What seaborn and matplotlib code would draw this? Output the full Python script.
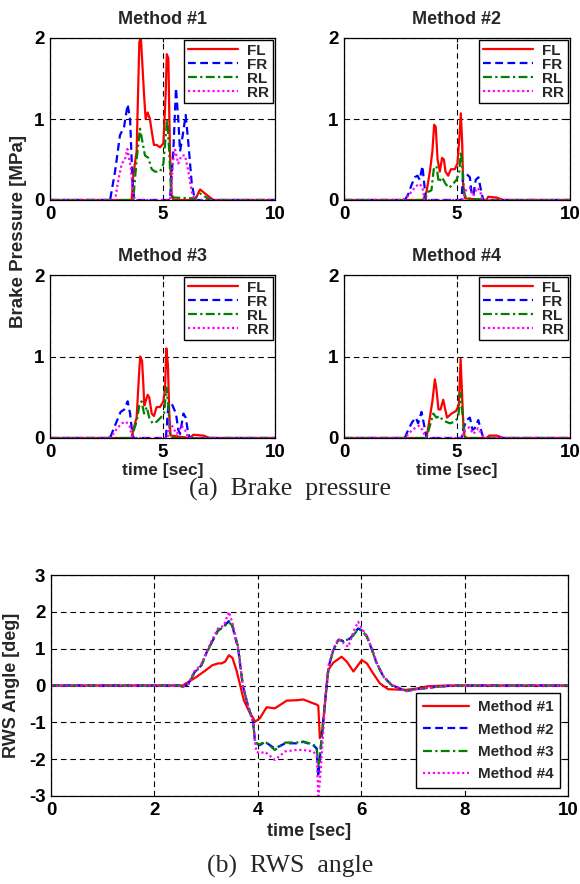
import numpy as np
import pandas as pd
import matplotlib
matplotlib.use("Agg")
import matplotlib.pyplot as plt
import seaborn as sns

# ---- data: (time [s], value) knots ----
WHEELS = ["FL", "FR", "RL", "RR"]
METHODS = ["Method #1", "Method #2", "Method #3", "Method #4"]

# brake pressure [MPa]
M1_FL = [(0, 0), (3.63, 0), (3.70, 0.30), (3.85, 0.60), (3.97, 1.95), (4.04, 2.0), (4.12, 1.6),
         (4.18, 1.3), (4.25, 1.0), (4.34, 1.08), (4.44, 1.0), (4.52, 0.85), (4.62, 0.68),
         (4.74, 0.68), (4.89, 0.65), (5.04, 0.70), (5.14, 1.3), (5.19, 1.8), (5.26, 1.75),
         (5.33, 0.6), (5.41, 0.05), (5.48, 0), (6.44, 0), (6.67, 0.13), (6.89, 0.08), (7.26, 0), (10, 0)]
M1_FR = [(0, 0), (2.67, 0), (2.89, 0.35), (3.11, 0.80), (3.29, 0.90), (3.45, 1.18), (3.56, 1.0),
         (3.67, 0.2), (3.75, 0), (5.33, 0), (5.48, 0.6), (5.60, 1.38), (5.70, 1.0), (5.78, 0.6),
         (5.90, 0.8), (6.03, 1.05), (6.15, 0.7), (6.30, 0.2), (6.44, 0), (10, 0)]
M1_RL = [(0, 0), (3.70, 0), (3.85, 0.5), (4.0, 0.88), (4.12, 0.7), (4.22, 0.55), (4.37, 0.52),
         (4.52, 0.38), (4.67, 0.35), (4.89, 0.35), (5.04, 0.45), (5.16, 0.85), (5.21, 1.0),
         (5.30, 0.6), (5.38, 0.1), (5.48, 0.03), (6.44, 0.02), (6.67, 0.08), (6.95, 0.03), (7.2, 0), (10, 0)]
M1_RR = [(0, 0), (2.89, 0), (3.04, 0.25), (3.19, 0.45), (3.33, 0.5), (3.44, 0.63), (3.59, 0.4),
         (3.70, 0.05), (3.78, 0), (5.30, 0), (5.38, 0.05), (5.45, 0.45), (5.56, 0.62), (5.70, 0.45),
         (5.85, 0.55), (6.0, 0.55), (6.15, 0.35), (6.30, 0.1), (6.44, 0), (10, 0)]

M2_FL = [(0, 0), (3.50, 0), (3.65, 0.1), (3.80, 0.35), (3.91, 0.6), (3.99, 0.93), (4.06, 0.9),
         (4.14, 0.5), (4.24, 0.35), (4.34, 0.52), (4.42, 0.5), (4.49, 0.35), (4.61, 0.3),
         (4.73, 0.38), (4.90, 0.38), (5.02, 0.45), (5.10, 0.75), (5.17, 1.07), (5.23, 0.7),
         (5.27, 0.2), (5.35, 0.02), (6.31, 0), (6.38, 0.04), (6.75, 0.03), (7.05, 0), (10, 0)]
M2_FR = [(0, 0), (2.69, 0), (2.84, 0.07), (2.98, 0.18), (3.13, 0.28), (3.25, 0.3), (3.35, 0.25),
         (3.47, 0.42), (3.55, 0.2), (3.62, 0), (5.20, 0), (5.27, 0.32), (5.39, 0.33), (5.57, 0.28),
         (5.64, 0.1), (5.72, 0.05), (5.83, 0.25), (5.95, 0.28), (6.04, 0.15), (6.16, 0), (10, 0)]
M2_RL = [(0, 0), (3.57, 0), (3.72, 0.1), (3.87, 0.12), (3.97, 0.38), (4.09, 0.42), (4.19, 0.22),
         (4.34, 0.28), (4.49, 0.2), (4.65, 0.15), (4.83, 0.2), (4.98, 0.25), (5.10, 0.35),
         (5.17, 0.6), (5.24, 0.4), (5.31, 0.1), (5.40, 0.02), (6.3, 0), (10, 0)]
M2_RR = [(0, 0), (2.61, 0), (2.84, 0.05), (2.98, 0.1), (3.18, 0.17), (3.35, 0.2), (3.47, 0.15),
         (3.57, 0), (5.24, 0), (5.39, 0.12), (5.57, 0.15), (5.72, 0.05), (5.89, 0.15), (6.01, 0.12),
         (6.13, 0), (10, 0)]

M3_FL = [(0, 0), (3.63, 0), (3.70, 0.1), (3.85, 0.25), (3.96, 0.8), (4.01, 1.0), (4.09, 0.95),
         (4.15, 0.65), (4.19, 0.4), (4.25, 0.45), (4.34, 0.53), (4.41, 0.5), (4.52, 0.3),
         (4.62, 0.27), (4.74, 0.38), (4.89, 0.38), (5.04, 0.45), (5.11, 0.6), (5.17, 1.1),
         (5.24, 0.9), (5.30, 0.3), (5.36, 0.03), (6.22, 0), (6.37, 0.04), (6.81, 0.03), (7.11, 0), (10, 0)]
M3_FR = [(0, 0), (2.67, 0), (2.81, 0.1), (2.96, 0.2), (3.14, 0.32), (3.30, 0.35), (3.45, 0.45),
         (3.56, 0.3), (3.67, 0.02), (3.75, 0), (5.15, 0), (5.26, 0.4), (5.41, 0.42), (5.60, 0.3),
         (5.70, 0.1), (5.78, 0.05), (5.93, 0.3), (6.03, 0.25), (6.15, 0.05), (6.22, 0), (10, 0)]
M3_RL = [(0, 0), (3.63, 0), (3.73, 0.1), (3.85, 0.2), (3.97, 0.4), (4.07, 0.45), (4.18, 0.3),
         (4.30, 0.38), (4.41, 0.25), (4.56, 0.18), (4.74, 0.2), (4.92, 0.25), (5.07, 0.3),
         (5.17, 0.62), (5.26, 0.4), (5.33, 0.05), (5.42, 0), (10, 0)]
M3_RR = [(0, 0), (2.59, 0), (2.81, 0.05), (2.99, 0.12), (3.19, 0.18), (3.38, 0.2), (3.53, 0.15),
         (3.66, 0), (5.22, 0), (5.33, 0.2), (5.48, 0.12), (5.63, 0.05), (5.85, 0.15), (6.0, 0.1),
         (6.15, 0), (10, 0)]

M4_FL = [(0, 0), (3.65, 0), (3.77, 0.2), (3.91, 0.45), (4.02, 0.72), (4.09, 0.6), (4.18, 0.35),
         (4.27, 0.35), (4.39, 0.47), (4.48, 0.35), (4.56, 0.25), (4.76, 0.3), (4.95, 0.33),
         (5.08, 0.4), (5.16, 0.97), (5.23, 0.5), (5.29, 0.1), (5.35, 0), (6.31, 0), (6.43, 0.03),
         (6.75, 0.03), (7.05, 0), (10, 0)]
M4_FR = [(0, 0), (2.69, 0), (2.84, 0.1), (3.03, 0.2), (3.18, 0.25), (3.28, 0.18), (3.43, 0.32),
         (3.53, 0.18), (3.65, 0), (5.20, 0), (5.27, 0.1), (5.42, 0.22), (5.57, 0.25), (5.69, 0.1),
         (5.79, 0.12), (5.94, 0.22), (6.06, 0.1), (6.16, 0), (10, 0)]
M4_RL = [(0, 0), (3.65, 0), (3.80, 0.15), (3.95, 0.3), (4.09, 0.25), (4.24, 0.27), (4.36, 0.22),
         (4.51, 0.2), (4.68, 0.18), (4.90, 0.2), (5.05, 0.25), (5.16, 0.55), (5.24, 0.3),
         (5.35, 0.02), (5.45, 0), (10, 0)]
M4_RR = [(0, 0), (2.69, 0), (2.91, 0.07), (3.13, 0.12), (3.32, 0.15), (3.47, 0.1), (3.62, 0),
         (5.20, 0), (5.35, 0.1), (5.54, 0.13), (5.72, 0.05), (5.94, 0.12), (6.09, 0.05), (6.23, 0), (10, 0)]

# RWS angle [deg]
RWS_M1 = [(0, 0), (2.55, 0), (2.66, 0.1), (2.80, 0.22), (2.98, 0.4), (3.12, 0.55), (3.23, 0.6),
          (3.30, 0.6), (3.37, 0.65), (3.44, 0.82), (3.51, 0.75), (3.59, 0.4), (3.66, 0.0),
          (3.73, -0.4), (3.83, -0.7), (3.95, -0.98), (4.04, -0.89), (4.17, -0.59), (4.33, -0.62),
          (4.56, -0.41), (4.75, -0.40), (4.88, -0.38), (5.14, -0.52), (5.17, -0.55), (5.20, -1.43),
          (5.25, -1.2), (5.30, -0.46), (5.36, 0.42), (5.46, 0.62), (5.62, 0.78), (5.72, 0.65),
          (5.85, 0.38), (6.01, 0.69), (6.11, 0.6), (6.23, 0.33), (6.36, 0.06), (6.52, -0.1),
          (6.86, -0.12), (7.08, -0.08), (7.29, -0.02), (7.65, 0), (10, 0)]
RWS_M2 = [(0, 0), (2.48, 0), (2.55, -0.04), (2.66, 0.05), (2.77, 0.35), (2.91, 0.55), (3.01, 0.9),
          (3.12, 1.2), (3.23, 1.5), (3.34, 1.6), (3.44, 1.75), (3.51, 1.6), (3.62, 1.0), (3.71, 0.0),
          (3.80, -0.5), (3.91, -1.0), (3.95, -1.57), (4.04, -1.62), (4.14, -1.53), (4.33, -1.71),
          (4.53, -1.57), (4.75, -1.57), (4.88, -1.53), (5.07, -1.62), (5.14, -1.71), (5.17, -2.48),
          (5.20, -2.0), (5.25, -1.21), (5.30, -0.46), (5.37, 0.51), (5.46, 0.96), (5.56, 1.24),
          (5.66, 1.2), (5.75, 1.24), (5.85, 1.37), (5.94, 1.55), (6.01, 1.5), (6.11, 1.33),
          (6.21, 0.96), (6.30, 0.6), (6.43, 0.24), (6.59, 0.01), (6.75, -0.08), (6.86, -0.15),
          (7.08, -0.1), (7.43, -0.04), (7.79, 0), (10, 0)]
RWS_M3 = [(0, 0), (2.48, 0), (2.55, -0.04), (2.66, 0.05), (2.77, 0.33), (2.91, 0.55), (3.01, 0.88),
          (3.12, 1.2), (3.23, 1.48), (3.34, 1.6), (3.44, 1.72), (3.51, 1.62), (3.62, 1.05), (3.71, 0.0),
          (3.80, -0.5), (3.91, -1.0), (3.95, -1.55), (4.04, -1.6), (4.14, -1.52), (4.33, -1.75),
          (4.53, -1.55), (4.75, -1.55), (4.88, -1.52), (5.07, -1.6), (5.14, -1.7), (5.17, -2.2),
          (5.20, -1.9), (5.25, -1.2), (5.30, -0.46), (5.37, 0.5), (5.46, 0.95), (5.56, 1.24),
          (5.66, 1.22), (5.75, 1.25), (5.85, 1.37), (5.94, 1.52), (6.01, 1.5), (6.11, 1.33),
          (6.21, 0.96), (6.30, 0.6), (6.43, 0.24), (6.59, 0.01), (6.75, -0.08), (6.86, -0.14),
          (7.08, -0.1), (7.43, -0.04), (7.79, 0), (10, 0)]
RWS_M4 = [(0, 0), (2.48, 0), (2.55, -0.04), (2.66, 0.05), (2.77, 0.38), (2.91, 0.58), (3.01, 0.92),
          (3.12, 1.25), (3.23, 1.55), (3.34, 1.62), (3.44, 2.0), (3.51, 1.7), (3.62, 1.0), (3.71, 0.0),
          (3.80, -0.5), (3.91, -1.0), (3.97, -1.8), (4.04, -1.84), (4.14, -1.8), (4.33, -2.02),
          (4.53, -1.79), (4.75, -1.75), (4.88, -1.75), (5.07, -1.79), (5.14, -1.9), (5.17, -3.0),
          (5.20, -2.6), (5.25, -1.6), (5.30, -0.5), (5.37, 0.55), (5.46, 1.0), (5.56, 1.27),
          (5.66, 1.15), (5.75, 1.05), (5.85, 1.46), (5.94, 1.73), (6.01, 1.55), (6.11, 1.35),
          (6.21, 1.0), (6.30, 0.62), (6.43, 0.26), (6.59, 0.02), (6.75, -0.08), (6.86, -0.16),
          (7.08, -0.1), (7.43, -0.04), (7.79, 0), (10, 0)]

BRAKE = [[M1_FL, M1_FR, M1_RL, M1_RR],
         [M2_FL, M2_FR, M2_RL, M2_RR],
         [M3_FL, M3_FR, M3_RL, M3_RR],
         [M4_FL, M4_FR, M4_RL, M4_RR]]
RWS = [RWS_M1, RWS_M2, RWS_M3, RWS_M4]

COLORS = ["#ff0000", "#0000ff", "#008000", "#ff00ff"]
STYLES = ["-", (0, (3.5, 2)), (0, (4, 1.5, 1, 1.5)), (0, (1, 1.2))]

sns.set_style("white")
plt.rcParams["font.family"] = ["Liberation Sans", "DejaVu Sans"]
plt.rcParams["font.weight"] = "bold"
plt.rcParams["axes.labelweight"] = "bold"
plt.rcParams["axes.titleweight"] = "bold"
plt.rcParams["axes.edgecolor"] = "black"
plt.rcParams["axes.linewidth"] = 0.9
plt.rcParams["axes.unicode_minus"] = False

GRID_LS = (0, (5, 3.5))

fig = plt.figure(figsize=(5.8, 8.84), dpi=100)
W, H = 580.0, 884.0


def add_axes(x0, x1, y0, y1):
    return fig.add_axes([x0 / W, 1 - y1 / H, (x1 - x0) / W, (y1 - y0) / H])


def style_axes(ax, fs):
    ax.tick_params(direction="in", length=3, width=0.8, top=True, right=True,
                   labelsize=fs, pad=4, colors="black")
    for lab in ax.get_xticklabels() + ax.get_yticklabels():
        lab.set_fontweight("bold")
    ax.grid(True, color="black", linestyle=GRID_LS, linewidth=0.8)
    ax.set_axisbelow(True)
    for s in ax.spines.values():
        s.set_visible(True)
        s.set_color("black")


boxes = [(50, 275, 38, 200), (344, 570, 38, 200), (50, 275, 275, 438), (344, 570, 275, 438)]
for m, (x0, x1, y0, y1) in enumerate(boxes):
    ax = add_axes(x0, x1, y0, y1)
    for w, series in enumerate(BRAKE[m]):
        df = pd.DataFrame(series, columns=["t", "p"])
        sns.lineplot(data=df, x="t", y="p", ax=ax, color=COLORS[w], linestyle=STYLES[w],
                     linewidth=1.6, label=WHEELS[w], sort=False, estimator=None)
    ax.set_xlim(0, 10)
    ax.set_ylim(0, 2)
    ax.set_xticks([0, 5, 10])
    ax.set_yticks([0, 1, 2])
    ax.set_xlabel("")
    ax.set_ylabel("")
    ax.set_title(METHODS[m], fontsize=13, fontweight="bold", pad=10)
    style_axes(ax, 13.5)
    if m >= 2:
        ax.set_xlabel("time [sec]", fontsize=12.5, fontweight="bold", labelpad=2)
    leg = ax.legend(loc="upper right", frameon=True, fancybox=False, framealpha=1,
                    edgecolor="black", prop={"weight": "bold", "size": 11},
                    handlelength=3.3, handletextpad=0.6, labelspacing=0.0,
                    borderpad=0.25, borderaxespad=0.12)
    leg.get_frame().set_linewidth(1.0)

fig.text(19 / W, 1 - 232 / H, "Brake Pressure [MPa]", rotation=90, ha="center", va="center",
         fontsize=13.5, fontweight="bold")
fig.text(0.5, 1 - 489 / H, "(a)  Brake  pressure", ha="center", va="center",
         fontsize=18.5, fontweight="normal", family=["Liberation Serif", "DejaVu Serif"])

# RWS angle panel
ax = add_axes(51, 568, 575, 796)
for m, series in enumerate(RWS):
    df = pd.DataFrame(series, columns=["t", "a"])
    sns.lineplot(data=df, x="t", y="a", ax=ax, color=COLORS[m], linestyle=STYLES[m],
                 linewidth=1.6, label=METHODS[m], sort=False, estimator=None)
ax.set_xlim(0, 10)
ax.set_ylim(-3, 3)
ax.set_xticks([0, 2, 4, 6, 8, 10])
ax.set_yticks([-3, -2, -1, 0, 1, 2, 3])
style_axes(ax, 13.5)
ax.set_xlabel("time [sec]", fontsize=13, fontweight="bold", labelpad=3)
ax.set_ylabel("RWS Angle [deg]", fontsize=13, fontweight="bold")
ax.yaxis.set_label_coords(-31 / 517, 0.5)
leg = ax.legend(loc="lower right", frameon=True, fancybox=False, framealpha=1,
                edgecolor="black", prop={"weight": "bold", "size": 11},
                handlelength=3.0, handletextpad=0.6, labelspacing=0.55,
                borderpad=0.45, borderaxespad=0.5)
leg.get_frame().set_linewidth(1.0)

fig.text(0.5, 1 - 866 / H, "(b)  RWS  angle", ha="center", va="center",
         fontsize=18.5, fontweight="normal", family=["Liberation Serif", "DejaVu Serif"])

fig.savefig("out.png", dpi=100, facecolor="white")
